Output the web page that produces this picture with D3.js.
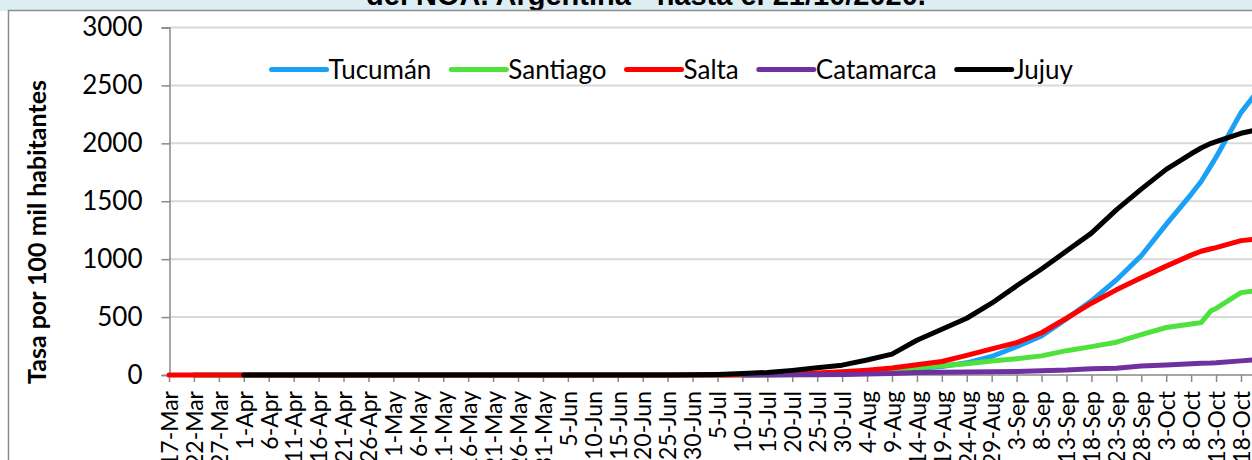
<!DOCTYPE html>
<html><head><meta charset="utf-8">
<script src="https://cdn.jsdelivr.net/npm/d3@7"></script>
<style>body{margin:0;background:#fff;} svg{display:block;}</style>
</head><body>
<svg id="c" width="1252" height="460"></svg>
<script>
// ---- data (tasa acumulada por 100 mil habitantes) ----
const dates = ["2020-03-17","2020-03-22","2020-03-27","2020-04-01","2020-04-06","2020-04-11","2020-04-16","2020-04-21","2020-04-26","2020-05-01","2020-05-06","2020-05-11","2020-05-16","2020-05-21","2020-05-26","2020-05-31","2020-06-05","2020-06-10","2020-06-15","2020-06-20","2020-06-25","2020-06-30","2020-07-05","2020-07-10","2020-07-15","2020-07-20","2020-07-25","2020-07-30","2020-08-04","2020-08-09","2020-08-14","2020-08-19","2020-08-24","2020-08-29","2020-09-03","2020-09-08","2020-09-13","2020-09-18","2020-09-23","2020-09-28","2020-10-03","2020-10-08","2020-10-10","2020-10-12","2020-10-13","2020-10-18","2020-10-21"];
const tucuman   = [null,0,0,0,0,0,0,0,0,0,0,0,0,0,0,0,0,0,0,0,0,1,1,2,3,4,6,9,15,28,55,74,105,160,245,337,485,640,820,1030,1300,1560,1670,1810,1880,2265,2432];
const santiago  = [null,0,0,0,0,0,0,0,0,0,0,0,0,0,0,0,0,0,0,0,0,0,1,1,2,3,5,9,16,28,62,80,98,120,141,165,210,245,283,348,410,440,452,555,575,711,728];
const salta     = [0,0,0,0,0,0,0,0,0,0,0,0,0,0,0,0,0,0,0,0,0,0,1,2,5,10,18,28,42,60,88,117,170,225,280,365,490,620,735,840,940,1035,1068,1090,1100,1160,1172];
const catamarca = [null,null,null,null,null,null,null,null,null,null,null,null,null,null,null,null,null,null,null,null,null,null,null,0,1,2,3,5,8,14,21,23,25,28,30,36,43,55,58,78,86,97,101,103,105,122,132];
const jujuy     = [null,null,null,0,0,0,0,0,0,0,0,0,0,0,0,0,0,0,0,1,1,2,5,12,22,40,62,85,130,180,300,395,490,620,770,915,1070,1225,1425,1605,1775,1910,1960,2000,2015,2087,2115];

const seriesNames  = ["Tucumán","Santiago","Salta","Catamarca","Jujuy"];
const seriesValues = [tucuman, santiago, salta, catamarca, jujuy];
const seriesColors = ["#1AA0F5","#50E23C","#FF0000","#7030A0","#000000"];

const tickLabels = ["17-Mar","22-Mar","27-Mar","1-Apr","6-Apr","11-Apr","16-Apr","21-Apr","26-Apr","1-May","6-May","11-May","16-May","21-May","26-May","31-May","5-Jun","10-Jun","15-Jun","20-Jun","25-Jun","30-Jun","5-Jul","10-Jul","15-Jul","20-Jul","25-Jul","30-Jul","4-Aug","9-Aug","14-Aug","19-Aug","24-Aug","29-Aug","3-Sep","8-Sep","13-Sep","18-Sep","23-Sep","28-Sep","3-Oct","8-Oct","13-Oct","18-Oct"];
const yTicks = [0,500,1000,1500,2000,2500,3000];

const titleText = "del NOA. Argentina - hasta el 21/10/2020.";
const yTitle = "Tasa por 100 mil habitantes";

// ---- drawing ----
const FONT = "Lato, 'Open Sans', 'Liberation Sans', sans-serif";
const svg = d3.select("#c");
const parseD = d3.utcParse("%Y-%m-%d");
const parseT = d3.utcParse("%d-%b-%Y");
const dateObjs = dates.map(parseD);
const tickDates = tickLabels.map(t => parseT(t + "-2020"));

const x = d3.scaleUtc().domain([tickDates[0], tickDates[tickDates.length-1]]).range([169, 1241]);
const y = d3.scaleLinear().domain([0, 3000]).range([375, 27.5]);

// title bar
svg.append("rect").attr("x",0).attr("y",0).attr("width",1252).attr("height",11).attr("fill","#DCEEF4");
svg.append("text").attr("x",646).attr("y",5).attr("text-anchor","middle")
  .attr("font-family","'Liberation Sans', Arial, sans-serif").attr("font-weight","bold")
  .attr("font-size",29).attr("fill","#000").text(titleText);
// frame
svg.append("rect").attr("x",8.5).attr("y",10.5).attr("width",1400).attr("height",600)
  .attr("fill","#fff").attr("stroke","#8C8C8C").attr("stroke-width",1.5);

// gridlines
svg.append("g").selectAll("line").data(yTicks.filter(d=>d>0)).join("line")
  .attr("x1",169).attr("x2",1300).attr("y1",d=>y(d)).attr("y2",d=>y(d))
  .attr("stroke","#D9D9D9").attr("stroke-width",2);

// y axis
const ya = svg.append("g").attr("transform","translate(169.5,0)")
  .call(d3.axisLeft(y).tickValues(yTicks).tickFormat(d3.format("d")).tickSize(8).tickPadding(19));
ya.select(".domain").attr("stroke","#898989").attr("stroke-width",1.5);
ya.selectAll(".tick line").attr("stroke","#898989").attr("stroke-width",1.5);
ya.selectAll(".tick text").attr("font-family",FONT).attr("font-size",26).attr("fill","#000");

// x axis
const xa = svg.append("g").attr("transform","translate(0,375)")
  .call(d3.axisBottom(x).tickValues(tickDates).tickFormat((d,i)=>tickLabels[i]).tickSize(7).tickSizeOuter(0));
xa.select(".domain").attr("stroke","#898989").attr("stroke-width",1.5).attr("d","M169,0H1300");
xa.selectAll(".tick line").attr("stroke","#898989").attr("stroke-width",1.5);
xa.selectAll(".tick text").attr("font-family",FONT).attr("font-size",23).attr("fill","#000")
  .attr("text-anchor","end").attr("transform","rotate(-90)")
  .attr("x",-16).attr("y",0).attr("dy","0.36em");

// y title
svg.append("text").attr("transform","translate(46,232) rotate(-90)").attr("text-anchor","middle")
  .attr("font-family",FONT).attr("font-weight","bold").attr("font-size",25).attr("fill","#000").text(yTitle);

// series
const line = d3.line().defined(d => d.v != null).x(d => x(d.t)).y(d => y(d.v));
seriesValues.forEach((vals, i) => {
  const pts = vals.map((v, j) => ({t: dateObjs[j], v}));
  svg.append("path").datum(pts).attr("d", line).attr("fill","none")
    .attr("stroke", seriesColors[i]).attr("stroke-width",5)
    .attr("stroke-linejoin","round").attr("stroke-linecap","round");
});

// legend
const lg = svg.append("g");
let lx = 271.5;
seriesNames.forEach((n, i) => {
  lg.append("line").attr("x1",lx).attr("x2",lx+55).attr("y1",69.5).attr("y2",69.5)
    .attr("stroke",seriesColors[i]).attr("stroke-width",5).attr("stroke-linecap","round");
  const t = lg.append("text").attr("x",lx+57).attr("y",69.5).attr("dy","0.35em")
    .attr("font-family",FONT).attr("font-size",26).attr("fill","#000").text(n);
  lx += 57 + t.node().getComputedTextLength() + 20;
});
</script>
</body></html>
